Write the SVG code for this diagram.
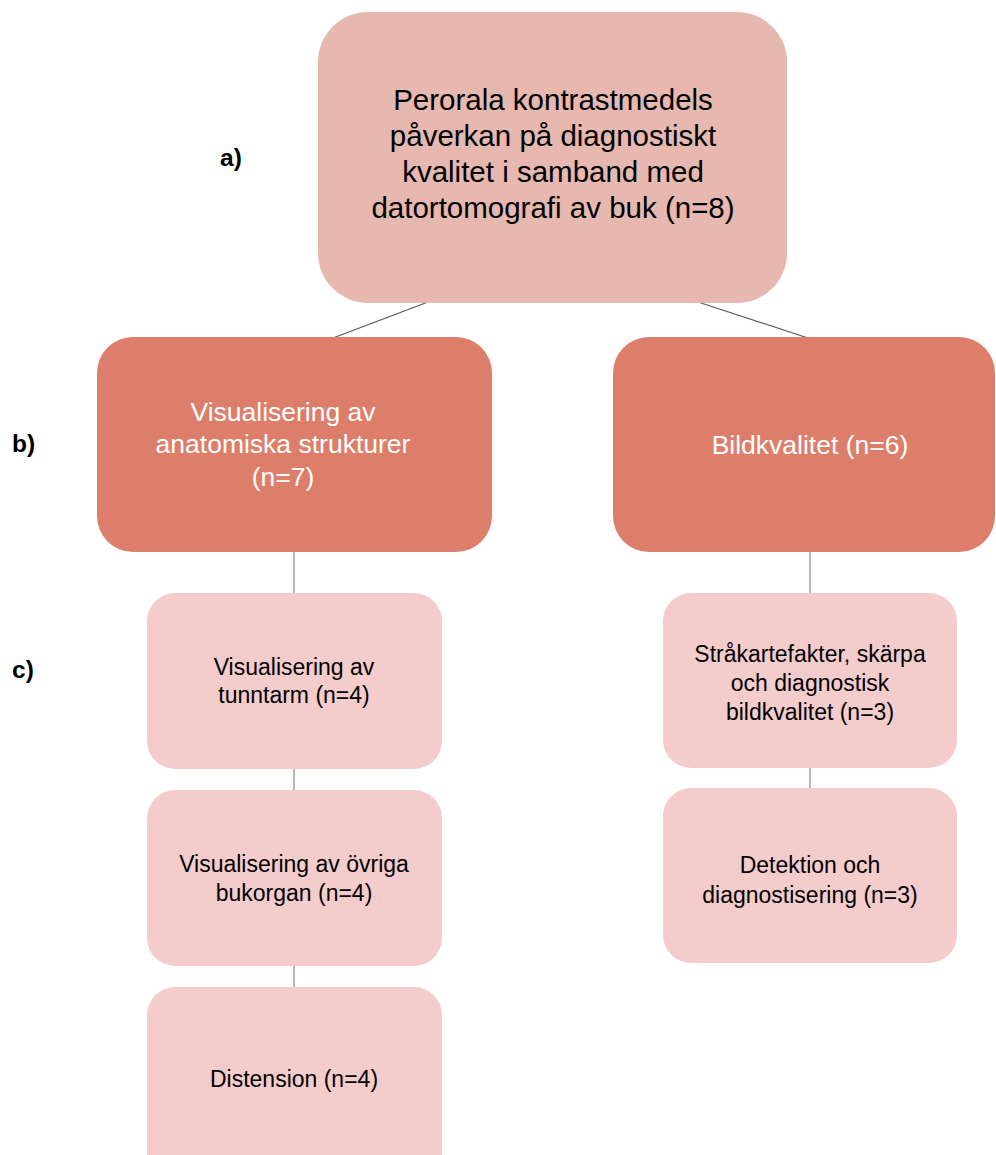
<svg xmlns="http://www.w3.org/2000/svg" width="996" height="1155" viewBox="0 0 996 1155">
<style>
.t{font-family:"Liberation Sans",Arial,sans-serif;text-anchor:middle}
.top{fill:#e6b8af}
.mid{fill:#dd7e6b}
.low{fill:#f4cccc}
.dk{fill:#000000}
.wh{fill:#ffffff}
.lbl{font-family:"Liberation Sans",Arial,sans-serif;font-weight:bold;font-size:24.5px;fill:#000}
.diag{stroke:#595959;stroke-width:1.2;fill:none}
.vert{stroke:#b7b7b7;stroke-width:2;fill:none}
</style>
<rect width="996" height="1155" fill="#ffffff"/>
<g id="connectors">
<line class="diag" x1="428" y1="302" x2="333" y2="338"/>
<line class="diag" x1="698" y1="302" x2="808" y2="338"/>
<line class="vert" x1="294" y1="551" x2="294" y2="594"/>
<line class="vert" x1="294" y1="768" x2="294" y2="791"/>
<line class="vert" x1="294" y1="965" x2="294" y2="988"/>
<line class="vert" x1="810" y1="551" x2="810" y2="594"/>
<line class="vert" x1="810" y1="767" x2="810" y2="789"/>
</g>
<g id="labels">
<text class="lbl" x="220" y="166">a)</text>
<text class="lbl" x="12" y="452">b)</text>
<text class="lbl" x="12" y="678">c)</text>
</g>
<g id="n-top">
<rect class="top" x="318" y="12" width="469" height="291" rx="50"/>
<text class="t dk" font-size="29.5"><tspan x="553" y="110">Perorala kontrastmedels</tspan><tspan x="553" y="146">påverkan på diagnostiskt</tspan><tspan x="553" y="182">kvalitet i samband med</tspan><tspan x="553" y="218">datortomografi av buk (n=8)</tspan></text>
</g>
<g id="n-anat">
<rect class="mid" x="97" y="337" width="395" height="215" rx="36"/>
<text class="t wh" font-size="26.5"><tspan x="283" y="421">Visualisering av</tspan><tspan x="283" y="453">anatomiska strukturer</tspan><tspan x="283" y="486">(n=7)</tspan></text>
</g>
<g id="n-bild">
<rect class="mid" x="613" y="337" width="382" height="215" rx="36"/>
<text class="t wh" font-size="26.5"><tspan x="810" y="454">Bildkvalitet (n=6)</tspan></text>
</g>
<g id="n-tunntarm">
<rect class="low" x="147" y="593" width="295" height="176" rx="28"/>
<text class="t dk" font-size="23"><tspan x="294" y="675">Visualisering av</tspan><tspan x="294" y="703">tunntarm (n=4)</tspan></text>
</g>
<g id="n-ovriga">
<rect class="low" x="147" y="790" width="295" height="176" rx="28"/>
<text class="t dk" font-size="23"><tspan x="294" y="872">Visualisering av övriga</tspan><tspan x="294" y="901">bukorgan (n=4)</tspan></text>
</g>
<g id="n-distension">
<rect class="low" x="147" y="987" width="295" height="200" rx="28"/>
<text class="t dk" font-size="23"><tspan x="294" y="1087">Distension (n=4)</tspan></text>
</g>
<g id="n-strak">
<rect class="low" x="663" y="593" width="294" height="175" rx="28"/>
<text class="t dk" font-size="23"><tspan x="810" y="662">Stråkartefakter, skärpa</tspan><tspan x="810" y="691">och diagnostisk</tspan><tspan x="810" y="720">bildkvalitet (n=3)</tspan></text>
</g>
<g id="n-detektion">
<rect class="low" x="663" y="788" width="294" height="175" rx="28"/>
<text class="t dk" font-size="23"><tspan x="810" y="873">Detektion och</tspan><tspan x="810" y="903">diagnostisering (n=3)</tspan></text>
</g>
</svg>
